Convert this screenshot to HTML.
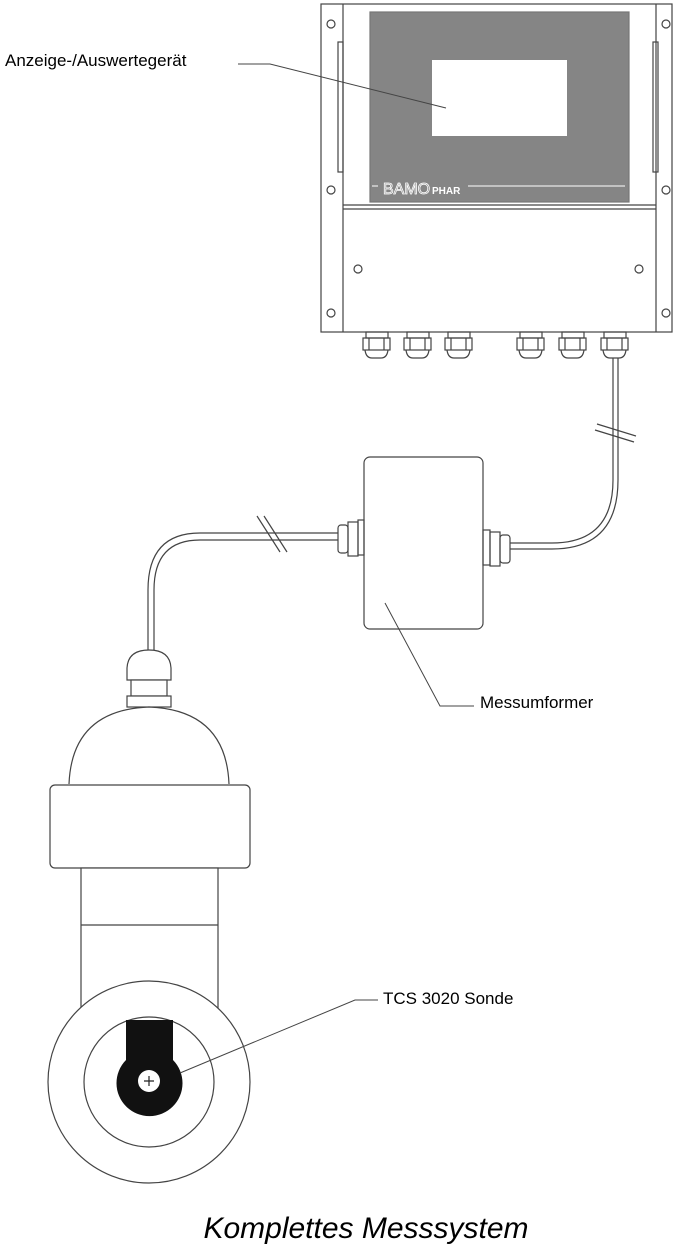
<!DOCTYPE html>
<html><head><meta charset="utf-8"><style>
html,body{margin:0;padding:0;background:#fff;}
svg{display:block}
</style></head><body>
<svg width="682" height="1256" viewBox="0 0 682 1256" xmlns="http://www.w3.org/2000/svg" font-family="Liberation Sans, Arial, sans-serif">
<g fill="none" stroke="#444" stroke-width="1.2">
<rect x="321" y="4" width="351" height="328" fill="#fff"/>
<line x1="343" y1="4" x2="343" y2="332"/>
<line x1="656" y1="4" x2="656" y2="332"/>
<rect x="370" y="12" width="259" height="190" fill="#858585" stroke="#777"/>
<rect x="432" y="60" width="135" height="76" fill="#fff" stroke="none"/>
<line x1="343" y1="205" x2="656" y2="205"/>
<line x1="343" y1="209" x2="656" y2="209"/>
<rect x="338" y="42" width="5" height="130"/>
<rect x="653" y="42" width="5" height="130"/>
<circle cx="331" cy="24" r="4"/><circle cx="331" cy="190" r="4"/><circle cx="331" cy="313" r="4"/>
<circle cx="666" cy="24" r="4"/><circle cx="666" cy="190" r="4"/><circle cx="666" cy="313" r="4"/>
<circle cx="358" cy="269" r="4"/><circle cx="639" cy="269" r="4"/>
<g id="gl">
<rect x="366" y="332" width="22" height="6"/>
<rect x="363" y="338" width="27" height="12"/>
<line x1="369" y1="338" x2="369" y2="350"/><line x1="384" y1="338" x2="384" y2="350"/>
<path d="M365 350 Q366 358 372 358 L381 358 Q387 358 388 350"/>
</g>
<use href="#gl" x="41"/><use href="#gl" x="82"/><use href="#gl" x="154"/><use href="#gl" x="196"/><use href="#gl" x="238"/>
<path d="M613 358 L613 480 Q613 543 552 543 L510 543"/>
<path d="M618 358 L618 480 Q618 549 552 549 L510 549"/>
<line x1="597" y1="424" x2="636" y2="436"/>
<line x1="595" y1="430" x2="634" y2="442"/>
<rect x="364" y="457" width="119" height="172" rx="6" fill="#fff"/>
<rect x="338" y="525" width="10" height="28" rx="3"/><rect x="348" y="522" width="10" height="34"/><rect x="358" y="520" width="6" height="35"/>
<rect x="500" y="535" width="10" height="28" rx="3"/><rect x="490" y="532" width="10" height="34"/><rect x="483" y="530" width="7" height="35"/>
<path d="M338 533 L200 533 Q148 533 148 590 L148 650"/>
<path d="M338 540 L200 540 Q154 540 154 590 L154 650"/>
<line x1="257" y1="516" x2="280" y2="552"/>
<line x1="264" y1="516" x2="287" y2="552"/>
<path d="M127 680 L127 668 Q128 650 149 650 Q170 650 171 668 L171 680 Z" fill="#fff"/>
<rect x="131" y="680" width="36" height="16" fill="#fff"/>
<rect x="127" y="696" width="44" height="11" fill="#fff"/>
<path d="M69 784 Q72 710 149 707 Q226 710 229 784" fill="#fff"/>
<rect x="50" y="785" width="200" height="83" rx="5" fill="#fff"/>
<rect x="81" y="868" width="137" height="140" fill="#fff"/>
<line x1="81" y1="925" x2="218" y2="925"/>
<circle cx="149" cy="1082" r="101" fill="#fff"/>
<circle cx="149" cy="1082" r="65"/>
</g>
<path d="M126 1020 L173 1020 L173 1060 A33 33 0 1 1 126 1060 Z" fill="#111"/>
<circle cx="149" cy="1081" r="11" fill="#fff"/>
<path d="M144 1081 H154 M149 1076 V1086" stroke="#222" stroke-width="1.2"/>
<g fill="none" stroke="#444" stroke-width="1">
<path d="M238 64 L270 64 L446 108"/>
<path d="M474 706 L440 706 L385 603"/>
<path d="M378 1000 L355 1000 L180 1073"/>
</g>
<g font-size="17" fill="#000">
<text x="5" y="66">Anzeige-/Auswertegerät</text>
<text x="480" y="708">Messumformer</text>
<text x="383" y="1004">TCS 3020 Sonde</text>
</g>
<text x="366" y="1238" font-size="30" font-style="italic" text-anchor="middle">Komplettes Messsystem</text>
<text x="383" y="194" font-size="16" fill="none" stroke="#fff" stroke-width="0.8">BAMO</text>
<text x="432" y="194" font-size="10" fill="#fff" font-weight="bold">PHAR</text>
<line x1="468" y1="186" x2="625" y2="186" stroke="#fff" stroke-width="1"/>
<line x1="372" y1="186" x2="378" y2="186" stroke="#fff" stroke-width="1"/>
</svg>
</body></html>
